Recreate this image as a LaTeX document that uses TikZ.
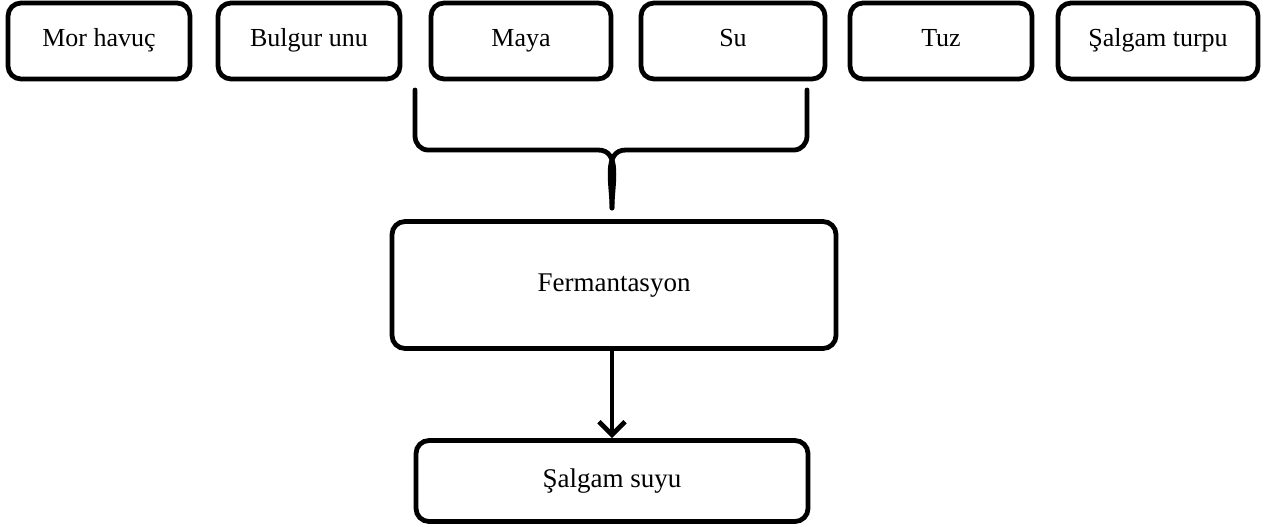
\documentclass[tikz,border=0pt]{standalone}
\usepackage{fontspec}
\setmainfont{Liberation Serif}
\usetikzlibrary{arrows.meta}
\begin{document}
\begin{tikzpicture}[x=1pt,y=-1pt,
  box/.style={draw, line width=4.8pt, rounded corners=13pt, inner sep=0pt, text height=18pt, text depth=6pt, font=\fontsize{26}{30}\selectfont},
  conn/.style={line width=4.8pt},
]
\useasboundingbox (0,0) rectangle (1264,527);
\node[box, minimum width=182pt, minimum height=76pt] (mor) at (99,41) {Mor havuç};
\node[box, minimum width=182pt, minimum height=76pt] (bulgur) at (309,41) {Bulgur unu};
\node[box, minimum width=180pt, minimum height=76pt] (maya) at (521,41) {Maya};
\node[box, minimum width=184pt, minimum height=76pt] (su) at (733,41) {Su};
\node[box, minimum width=182pt, minimum height=76pt] (tuz) at (941,41) {Tuz};
\node[box, minimum width=200pt, minimum height=76pt] (turp) at (1158,41) {Şalgam turpu};
\node[box, minimum width=444pt, minimum height=127pt, font=\fontsize{27}{30}\selectfont] (ferm) at (614,285) {Fermantasyon};
\node[box, minimum width=392pt, minimum height=81pt, font=\fontsize{27}{30}\selectfont] (suyu) at (612,481) {Şalgam suyu};
\coordinate (bl) at (415,90);
\coordinate (br) at (807,90);
\coordinate (tip) at (612,208);
\draw[conn, line cap=round] (bl) -- (415,136) to[out=-90,in=180] (428,150) -- (598,150) to[out=0,in=90] (tip);
\draw[conn, line cap=round] (br) -- (807,136) to[out=-90,in=0] (794,150) -- (626,150) to[out=180,in=90] (tip);
\draw[conn, -{Straight Barb[length=13pt,width=26pt,line width=4.8pt]}] (ferm.south -| tip) -- (suyu.north -| tip);
\end{tikzpicture}
\end{document}
